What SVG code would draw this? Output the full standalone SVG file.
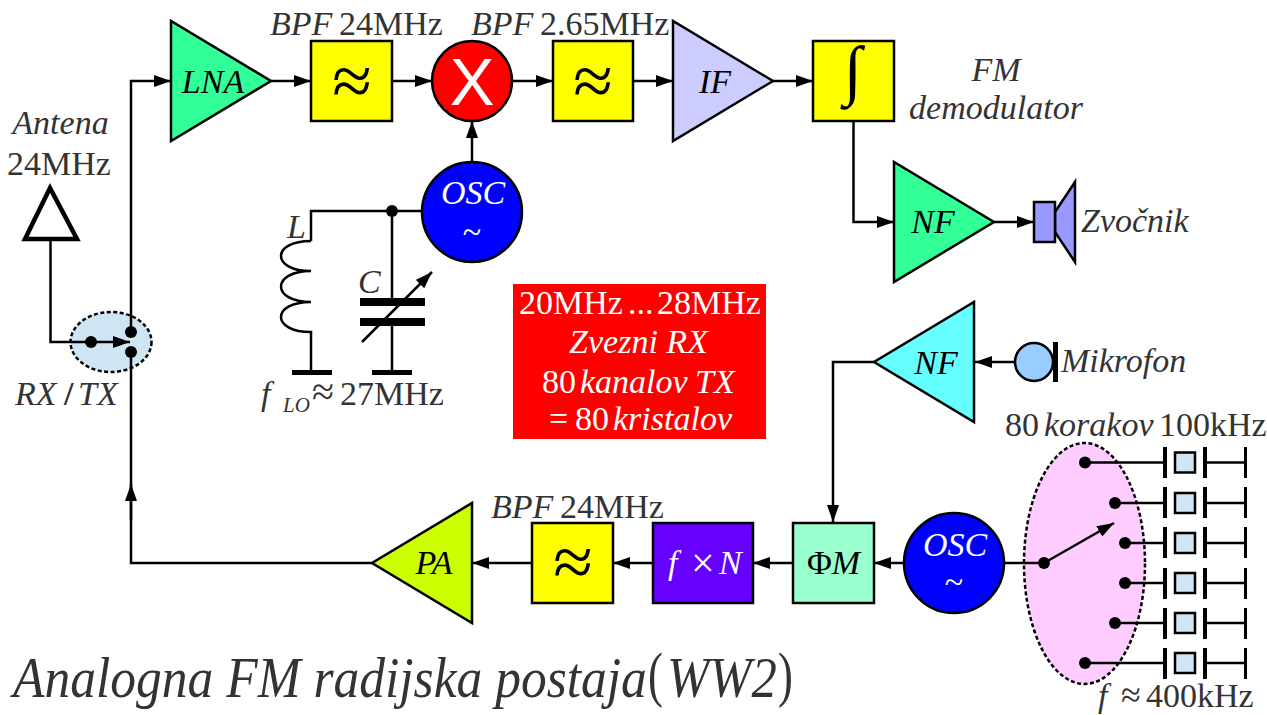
<svg xmlns="http://www.w3.org/2000/svg" width="1267" height="715" viewBox="0 0 1267 715">
<style>
text{font-family:"Liberation Serif","Times New Roman",serif;font-size:34px;fill:#333}
.i{font-style:italic}
.k{fill:#000}
.w{fill:#fff}
.m{text-anchor:middle}
.n{stroke:#000;stroke-width:2.5;stroke-linejoin:miter}
.c{fill:none;stroke:#000;stroke-width:2.5}
.a{marker-end:url(#ah)}
.bar{fill:#000;stroke:none}
.d{fill:#000;stroke:none}
.e{stroke:#000;stroke-width:2.5;stroke-dasharray:4 2.5}
.ap{font-size:72px}
</style>
<defs>
<marker id="ah" markerUnits="userSpaceOnUse" markerWidth="18" markerHeight="12" refX="17" refY="6" orient="auto"><path d="M0 0L17 6L0 12Z" fill="#000"/></marker>
</defs>
<g id="sw-bg"><ellipse class="e" cx="111" cy="342" rx="40.500" ry="30" fill="#cfe5f3"/></g>
<g id="xtal-bg"><ellipse class="e" cx="1084.500" cy="563.500" rx="60.500" ry="120.500" fill="#ffccff"/></g>
<g id="connectors">
<path class="c a" d="M131 332V81H171"/>
<path class="c" d="M131 352V563H372"/>
<path class="c a" d="M131 520V484"/>
<path class="c a" d="M271 81H311"/>
<path class="c a" d="M392 81H432"/>
<path class="c a" d="M513 81H553"/>
<path class="c a" d="M633 81H673"/>
<path class="c a" d="M773 81H813"/>
<path class="c a" d="M472 162V121"/>
<path class="c a" d="M853.500 121V222H894"/>
<path class="c a" d="M994 222H1034"/>
<path class="c" d="M50.500 240V342H91"/>
<path class="c a" d="M91 342H130"/>
<path class="c" d="M422 211H311V241"/>
<path class="c" d="M392 211V298M392 326V372"/>
<path class="c" d="M311 241C271 241 271 271 311 271C271 271 271 302 311 302C271 302 271 332 311 332V372"/>
<path class="c a" d="M362 342L432 272"/>
<path class="c a" d="M1015 362H975"/>
<path class="c a" d="M874 362H833V522"/>
<path class="c a" d="M904 563H874"/>
<path class="c a" d="M793 563H753"/>
<path class="c a" d="M653 563H613"/>
<path class="c a" d="M532 563H472"/>
<path class="c" d="M1004 563H1044"/>
<path class="c a" d="M1044 563L1114 523"/>
<path class="c" d="M1085 462.500H1165M1115 503H1165M1125 543H1165M1125 583H1165M1115 623H1165M1085 663H1165"/>
<path class="c" d="M1205 462.500H1245M1205 503H1245M1205 543H1245M1205 583H1245M1205 623H1245M1205 663H1245"/>
<g class="d"><circle cx="91" cy="342" r="6"/><circle cx="131" cy="332" r="6"/><circle cx="131" cy="352" r="6"/><circle cx="392" cy="211" r="6"/><circle cx="1044" cy="563" r="6"/><circle cx="1085" cy="462.500" r="6"/><circle cx="1115" cy="503" r="6"/><circle cx="1125" cy="543" r="6"/><circle cx="1125" cy="583" r="6"/><circle cx="1115" cy="623" r="6"/><circle cx="1085" cy="663" r="6"/></g>
</g>
<g id="antenna"><path d="M50 188L25 239H77Z" fill="#fff" stroke="#000" stroke-width="4.500"/><text class="i m" x="60.500" y="134">Antena</text><text class="m" x="59" y="175">24MHz</text></g>
<g id="switch-label"><text class="i" x="15" y="405">RX</text><text x="64" y="405" font-weight="bold">/</text><text class="i" x="78" y="405">TX</text></g>
<g id="lna"><path class="n" d="M171 21V141L271 81Z" fill="#33ff99"/><text class="i k m" x="213" y="93">LNA</text></g>
<g id="bpf1"><rect class="n" x="311" y="41" width="81" height="80" fill="#ff0"/><text class="k m ap" x="352" y="105">≈</text><text class="i" x="270" y="35">BPF</text><text x="339" y="35">24MHz</text></g>
<g id="mixer"><circle class="n" cx="472" cy="81" r="40" fill="#f00"/><text class="w m" x="472" y="105" style="font-family:'Liberation Sans',Arial,sans-serif;font-size:67px">X</text></g>
<g id="bpf2"><rect class="n" x="553" y="41" width="80" height="80" fill="#ff0"/><text class="k m ap" x="593" y="105">≈</text><text class="i" x="471" y="35">BPF</text><text x="540" y="35">2.65MHz</text></g>
<g id="if"><path class="n" d="M673 21V141L773 81Z" fill="#ccf"/><text class="i k m" x="715" y="93">IF</text></g>
<g id="demod"><rect class="n" x="813" y="41" width="81" height="80" fill="#ff0"/><text class="k m" x="853" y="92" style="font-size:66px">∫</text><text class="i m" x="996" y="81">FM</text><text class="i m" x="996" y="119">demodulator</text></g>
<g id="nf1"><path class="n" d="M894 162V282L994 222Z" fill="#33ff99"/><text class="i k m" x="933" y="233">NF</text></g>
<g id="speaker"><path class="n" d="M1055 212L1075 182V262L1055 232Z" fill="#99f"/><rect class="n" x="1034" y="202" width="21" height="40" fill="#99f"/><text class="i" x="1081" y="232">Zvočnik</text></g>
<g id="osc1"><circle class="n" cx="472" cy="212" r="50" fill="#00f"/><text class="i w m" x="473" y="204">OSC</text><text class="w m" x="472" y="243">~</text></g>
<g id="tank"><text class="i" x="287" y="238">L</text><text class="i" x="358" y="293">C</text>
<rect class="bar" x="360" y="298" width="65" height="8"/><rect class="bar" x="360" y="318" width="65" height="8"/><rect class="bar" x="292" y="370" width="40" height="5"/><rect class="bar" x="372" y="370" width="40" height="5"/>
<text class="i" x="261" y="405">f</text><text class="i" x="283" y="412" style="font-size:21px">LO</text><text x="312" y="405" style="font-size:40px">≈</text><text x="340" y="405">27MHz</text></g>
<g id="note"><rect x="513" y="284" width="253" height="155" fill="#f00"/>
<text class="w" x="519" y="314">20MHz</text><text class="w" x="628" y="314">...</text><text class="w" x="657" y="314">28MHz</text>
<text class="i w m" x="638.500" y="353">Zvezni RX</text>
<text class="w" x="542" y="393">80</text><text class="i w" x="580" y="393">kanalov</text><text class="i w" x="695" y="393">TX</text>
<text class="w" x="549" y="430">=</text><text class="w" x="575" y="430">80</text><text class="i w" x="613" y="430">kristalov</text></g>
<g id="nf2"><path class="n" d="M974 302V422L874 362Z" fill="#6ff"/><text class="i k m" x="936" y="374">NF</text></g>
<g id="mic"><circle class="n" cx="1034" cy="362" r="19" fill="#99ccff"/><rect class="bar" x="1053" y="342" width="5" height="40"/><text class="i" x="1061" y="372">Mikrofon</text></g>
<g id="phim"><rect class="n" x="793" y="523" width="81" height="80" fill="#9fc"/><text class="k" x="807" y="574">Φ<tspan class="i">M</tspan></text></g>
<g id="fxn"><rect class="n" x="653" y="523" width="100" height="80" fill="#60f"/><text class="i w" x="668" y="574">f</text><text class="w" x="691" y="577" style="font-size:42px">×</text><text class="i w" x="719" y="574">N</text></g>
<g id="bpf3"><rect class="n" x="532" y="523" width="81" height="80" fill="#ff0"/><text class="k m ap" x="573" y="586">≈</text><text class="i" x="491" y="518">BPF</text><text x="560" y="518">24MHz</text></g>
<g id="pa"><path class="n" d="M472 503V623L372 563Z" fill="#cf0"/><text class="i k m" x="434" y="574">PA</text></g>
<g id="osc2"><circle class="n" cx="954" cy="563" r="50" fill="#00f"/><text class="i w m" x="955" y="556">OSC</text><text class="w m" x="954" y="593">~</text></g>
<g id="crystals">
<g id="x1"><rect class="bar" x="1163" y="447" width="4" height="31"/><rect class="n" x="1175" y="452.500" width="20" height="20" fill="#cfe5f3"/><rect class="bar" x="1203" y="447" width="4" height="31"/><rect class="bar" x="1244" y="447" width="3" height="31"/></g>
<g id="x2"><rect class="bar" x="1163" y="487" width="4" height="31"/><rect class="n" x="1175" y="493" width="20" height="20" fill="#cfe5f3"/><rect class="bar" x="1203" y="487" width="4" height="31"/><rect class="bar" x="1244" y="487" width="3" height="31"/></g>
<g id="x3"><rect class="bar" x="1163" y="527" width="4" height="31"/><rect class="n" x="1175" y="533" width="20" height="20" fill="#cfe5f3"/><rect class="bar" x="1203" y="527" width="4" height="31"/><rect class="bar" x="1244" y="527" width="3" height="31"/></g>
<g id="x4"><rect class="bar" x="1163" y="568" width="4" height="31"/><rect class="n" x="1175" y="573" width="20" height="20" fill="#cfe5f3"/><rect class="bar" x="1203" y="568" width="4" height="31"/><rect class="bar" x="1244" y="568" width="3" height="31"/></g>
<g id="x5"><rect class="bar" x="1163" y="608" width="4" height="31"/><rect class="n" x="1175" y="613" width="20" height="20" fill="#cfe5f3"/><rect class="bar" x="1203" y="608" width="4" height="31"/><rect class="bar" x="1244" y="608" width="3" height="31"/></g>
<g id="x6"><rect class="bar" x="1163" y="648" width="4" height="31"/><rect class="n" x="1175" y="653" width="20" height="20" fill="#cfe5f3"/><rect class="bar" x="1203" y="648" width="4" height="31"/><rect class="bar" x="1244" y="648" width="3" height="31"/></g>
</g>
<text x="1005" y="436">80</text><text class="i" x="1044" y="436">korakov</text><text x="1159" y="436">100kHz</text>
<text class="i" x="1098" y="707">f</text><text x="1121" y="707" style="font-size:36px">≈</text><text x="1146" y="707">400kHz</text>
<g id="title"><text class="i" transform="translate(13 697) scale(.92 1)" style="font-size:56px">Analogna FM radijska postaja</text><text transform="translate(648 695) scale(.72 1)" style="font-size:62px">(</text><text class="i" transform="translate(667 697) scale(.905 1)" style="font-size:56px">WW2</text><text transform="translate(778 695) scale(.72 1)" style="font-size:62px">)</text></g>
</svg>
